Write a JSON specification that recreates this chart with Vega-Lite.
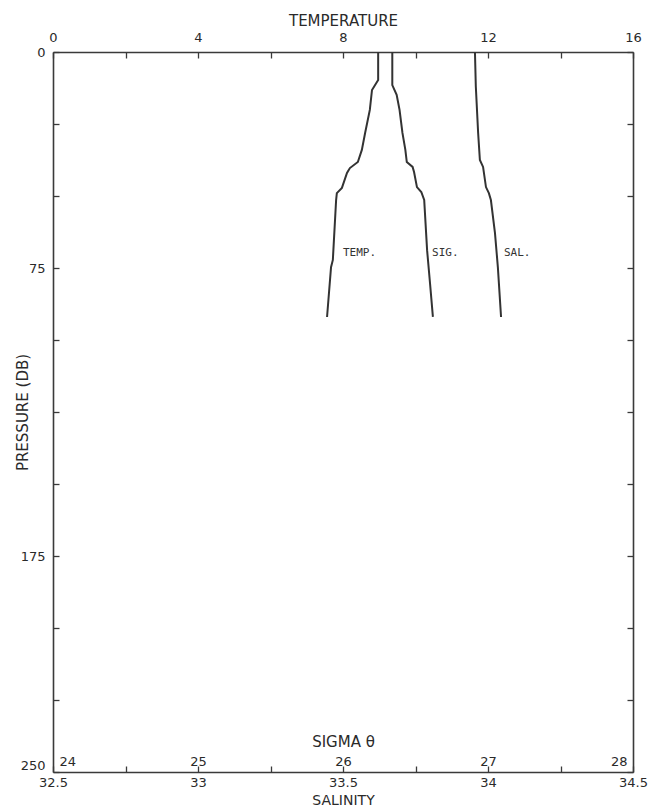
{
  "$schema": "https://vega.github.io/schema/vega-lite/v6.json",
  "width": 580,
  "height": 720,
  "autosize": "none",
  "padding": {"left": 53, "top": 52, "right": 29, "bottom": 38},
  "background": "white",
  "config": {
    "view": {"stroke": null},
    "font": "DejaVu Sans",
    "axis": {
      "labelFont": "DejaVu Sans",
      "titleFont": "DejaVu Sans",
      "labelColor": "#2a2a2a",
      "titleColor": "#2a2a2a",
      "domainColor": "#3a3a3a",
      "tickColor": "#3a3a3a",
      "domainWidth": 1.6,
      "tickWidth": 1.3,
      "grid": false,
      "labelFontSize": 13,
      "titleFontSize": 15,
      "titleFontWeight": "normal"
    }
  },
  "datasets": {
    "temperature": [
      {"pressure": 0, "temp": 8.97},
      {"pressure": 9.7, "temp": 8.97},
      {"pressure": 13.2, "temp": 8.80},
      {"pressure": 20.1, "temp": 8.74},
      {"pressure": 28.1, "temp": 8.61},
      {"pressure": 34.0, "temp": 8.52},
      {"pressure": 38.2, "temp": 8.41},
      {"pressure": 40.3, "temp": 8.19},
      {"pressure": 42.0, "temp": 8.11},
      {"pressure": 47.2, "temp": 7.97},
      {"pressure": 49.0, "temp": 7.83},
      {"pressure": 51.4, "temp": 7.81},
      {"pressure": 72.2, "temp": 7.72},
      {"pressure": 74.7, "temp": 7.67},
      {"pressure": 92.0, "temp": 7.56}
    ],
    "sigma": [
      {"pressure": 0, "sigma": 26.34},
      {"pressure": 11.5, "sigma": 26.34},
      {"pressure": 14.9, "sigma": 26.37},
      {"pressure": 20.1, "sigma": 26.39},
      {"pressure": 28.1, "sigma": 26.41},
      {"pressure": 34.0, "sigma": 26.43},
      {"pressure": 38.2, "sigma": 26.44},
      {"pressure": 39.9, "sigma": 26.48},
      {"pressure": 41.7, "sigma": 26.49},
      {"pressure": 46.9, "sigma": 26.51},
      {"pressure": 48.6, "sigma": 26.54},
      {"pressure": 51.4, "sigma": 26.56},
      {"pressure": 68.8, "sigma": 26.58},
      {"pressure": 80.2, "sigma": 26.60},
      {"pressure": 92.0, "sigma": 26.62}
    ],
    "salinity": [
      {"pressure": 0, "sal": 33.955},
      {"pressure": 12.0, "sal": 33.958},
      {"pressure": 28.1, "sal": 33.966},
      {"pressure": 37.5, "sal": 33.972},
      {"pressure": 39.9, "sal": 33.983},
      {"pressure": 46.9, "sal": 33.993},
      {"pressure": 49.0, "sal": 34.003},
      {"pressure": 51.4, "sal": 34.010},
      {"pressure": 62.8, "sal": 34.024},
      {"pressure": 74.7, "sal": 34.034},
      {"pressure": 92.0, "sal": 34.045}
    ],
    "labels": [
      {"label": "TEMP.", "sal": 33.5, "pressure": 69.8},
      {"label": "SIG.", "sal": 33.807, "pressure": 69.8},
      {"label": "SAL.", "sal": 34.055, "pressure": 69.8}
    ]
  },
  "layer": [
    {
      "data": {"name": "temperature"},
      "mark": {"type": "line", "color": "#333", "strokeWidth": 2},
      "encoding": {
        "x": {
          "field": "temp", "type": "quantitative",
          "scale": {"domain": [0, 16], "nice": false, "zero": false},
          "axis": {
            "orient": "top", "title": "TEMPERATURE",
            "values": [0, 2, 4, 6, 8, 10, 12, 14, 16],
            "labelExpr": "datum.value % 4 == 0 ? datum.label : ''",
            "labelFlush": false,
            "tickSize": -6, "labelPadding": 14,
            "titleY": -32, "titleBaseline": "middle"
          }
        },
        "y": {
          "field": "pressure", "type": "quantitative",
          "scale": {"domain": [0, 250], "reverse": true, "nice": false, "zero": false},
          "axis": {
            "orient": "left", "title": "PRESSURE (DB)",
            "values": [0, 25, 50, 75, 100, 125, 150, 175, 200, 225, 250],
            "labelExpr": "(datum.value == 0 || datum.value == 75 || datum.value == 175 || datum.value == 250) ? datum.label : ''",
            "labelFlush": false,
            "labelBaseline": {"condition": {"test": "datum.value == 250", "value": "bottom"}, "value": "middle"},
            "tickSize": -6, "labelPadding": 14,
            "titleX": -31, "titleBaseline": "middle"
          }
        },
        "order": {"field": "pressure", "type": "quantitative"}
      }
    },
    {
      "data": {"name": "sigma"},
      "mark": {"type": "line", "color": "#333", "strokeWidth": 2},
      "encoding": {
        "x": {
          "field": "sigma", "type": "quantitative",
          "scale": {"domain": [24, 28], "nice": false, "zero": false},
          "axis": {
            "orient": "bottom", "title": "SIGMA θ",
            "values": [24, 25, 26, 27, 28],
            "ticks": false, "domain": false,
            "labelPadding": -17, "labelFlush": true, "labelFlushOffset": -6,
            "titleY": -31, "titleBaseline": "middle"
          }
        },
        "y": {
          "field": "pressure", "type": "quantitative",
          "scale": {"domain": [0, 250], "reverse": true, "nice": false, "zero": false},
          "axis": {
            "orient": "right", "title": null, "labels": false,
            "values": [0, 25, 50, 75, 100, 125, 150, 175, 200, 225, 250],
            "tickSize": -6
          }
        },
        "order": {"field": "pressure", "type": "quantitative"}
      }
    },
    {
      "data": {"name": "salinity"},
      "mark": {"type": "line", "color": "#333", "strokeWidth": 2},
      "encoding": {
        "x": {
          "field": "sal", "type": "quantitative",
          "scale": {"domain": [32.5, 34.5], "nice": false, "zero": false},
          "axis": {
            "orient": "bottom", "title": "SALINITY",
            "values": [32.5, 32.75, 33, 33.25, 33.5, 33.75, 34, 34.25, 34.5],
            "labelExpr": "datum.value % 0.5 == 0 ? '' + datum.value : ''",
            "labelFlush": false,
            "tickSize": -6, "labelPadding": 10,
            "titleY": 28, "titleBaseline": "middle", "titleFontSize": 14
          }
        },
        "y": {
          "field": "pressure", "type": "quantitative",
          "scale": {"domain": [0, 250], "reverse": true, "nice": false, "zero": false},
          "axis": null
        },
        "order": {"field": "pressure", "type": "quantitative"}
      }
    },
    {
      "data": {"name": "labels"},
      "mark": {"type": "text", "align": "left", "baseline": "middle", "fontSize": 11, "font": "DejaVu Sans Mono", "color": "#333"},
      "encoding": {
        "x": {
          "field": "sal", "type": "quantitative",
          "scale": {"domain": [32.5, 34.5], "nice": false, "zero": false},
          "axis": null
        },
        "y": {
          "field": "pressure", "type": "quantitative",
          "scale": {"domain": [0, 250], "reverse": true, "nice": false, "zero": false},
          "axis": null
        },
        "text": {"field": "label"}
      }
    }
  ],
  "resolve": {
    "scale": {"x": "independent"},
    "axis": {"x": "independent", "y": "independent"}
  }
}
